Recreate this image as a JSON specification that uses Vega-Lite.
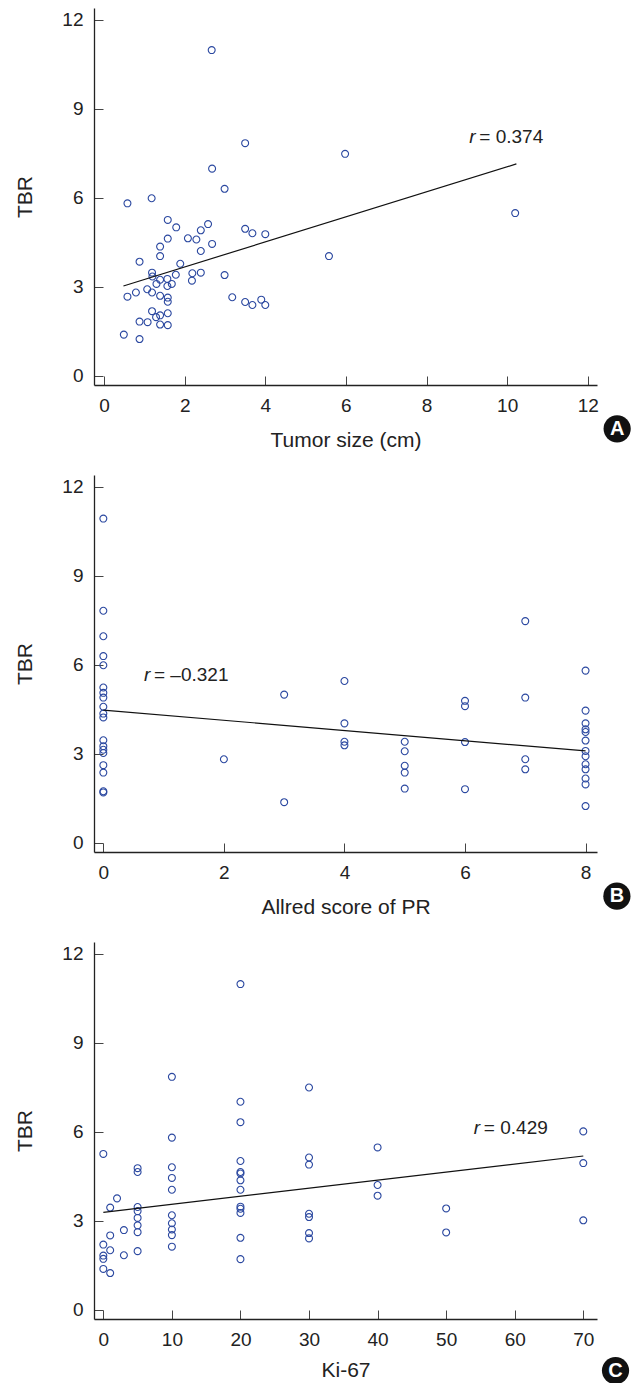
{
  "$schema": "https://vega.github.io/schema/vega-lite/v6.json",
  "background": "white",
  "padding": {"left": 14, "top": 8, "right": 0, "bottom": 0},
  "datasets": {
    "a": [
      {"size": 2.67, "tbr": 10.98}, {"size": 3.50, "tbr": 7.84}, {"size": 5.98, "tbr": 7.48}, {"size": 2.68, "tbr": 6.98},
      {"size": 2.99, "tbr": 6.30}, {"size": 0.58, "tbr": 5.81}, {"size": 1.18, "tbr": 5.98}, {"size": 1.58, "tbr": 5.25},
      {"size": 1.79, "tbr": 5.00}, {"size": 2.58, "tbr": 5.11}, {"size": 2.40, "tbr": 4.90}, {"size": 1.58, "tbr": 4.62},
      {"size": 2.08, "tbr": 4.63}, {"size": 2.29, "tbr": 4.59}, {"size": 2.68, "tbr": 4.44}, {"size": 3.50, "tbr": 4.95},
      {"size": 3.68, "tbr": 4.80}, {"size": 4.00, "tbr": 4.77}, {"size": 1.39, "tbr": 4.35}, {"size": 1.39, "tbr": 4.03},
      {"size": 2.40, "tbr": 4.20}, {"size": 0.88, "tbr": 3.84}, {"size": 1.89, "tbr": 3.77}, {"size": 5.58, "tbr": 4.03},
      {"size": 1.19, "tbr": 3.47}, {"size": 1.20, "tbr": 3.34}, {"size": 1.39, "tbr": 3.23}, {"size": 1.57, "tbr": 3.26},
      {"size": 1.78, "tbr": 3.40}, {"size": 2.19, "tbr": 3.45}, {"size": 2.40, "tbr": 3.47}, {"size": 2.18, "tbr": 3.20},
      {"size": 2.99, "tbr": 3.39}, {"size": 1.30, "tbr": 3.09}, {"size": 1.57, "tbr": 3.02}, {"size": 1.68, "tbr": 3.09},
      {"size": 1.07, "tbr": 2.91}, {"size": 1.19, "tbr": 2.80}, {"size": 0.79, "tbr": 2.80}, {"size": 0.58, "tbr": 2.66},
      {"size": 1.39, "tbr": 2.69}, {"size": 1.58, "tbr": 2.63}, {"size": 1.58, "tbr": 2.49}, {"size": 3.18, "tbr": 2.64},
      {"size": 3.50, "tbr": 2.48}, {"size": 3.68, "tbr": 2.38}, {"size": 3.90, "tbr": 2.56}, {"size": 4.00, "tbr": 2.38},
      {"size": 1.19, "tbr": 2.17}, {"size": 1.39, "tbr": 2.03}, {"size": 1.29, "tbr": 1.97}, {"size": 1.58, "tbr": 2.10},
      {"size": 0.88, "tbr": 1.82}, {"size": 1.08, "tbr": 1.80}, {"size": 1.39, "tbr": 1.72}, {"size": 1.58, "tbr": 1.70},
      {"size": 0.49, "tbr": 1.38}, {"size": 0.88, "tbr": 1.23}, {"size": 10.20, "tbr": 5.48}
    ],
    "fitA": [{"size": 0.48, "tbr": 3.02}, {"size": 10.23, "tbr": 7.14}],
    "b": [
      {"pr": 0, "tbr": 10.93}, {"pr": 0, "tbr": 7.82}, {"pr": 0, "tbr": 6.96}, {"pr": 0, "tbr": 6.29}, {"pr": 0, "tbr": 5.98},
      {"pr": 0, "tbr": 5.23}, {"pr": 0, "tbr": 5.05}, {"pr": 0, "tbr": 4.89}, {"pr": 0, "tbr": 4.58}, {"pr": 0, "tbr": 4.35},
      {"pr": 0, "tbr": 4.22}, {"pr": 0, "tbr": 3.45}, {"pr": 0, "tbr": 3.25}, {"pr": 0, "tbr": 3.13}, {"pr": 0, "tbr": 3.02},
      {"pr": 0, "tbr": 2.61}, {"pr": 0, "tbr": 2.36}, {"pr": 0, "tbr": 1.73}, {"pr": 0, "tbr": 1.69},
      {"pr": 2, "tbr": 2.81}, {"pr": 3, "tbr": 4.99}, {"pr": 3, "tbr": 1.36},
      {"pr": 4, "tbr": 5.45}, {"pr": 4, "tbr": 4.02}, {"pr": 4, "tbr": 3.40}, {"pr": 4, "tbr": 3.28},
      {"pr": 5, "tbr": 3.40}, {"pr": 5, "tbr": 3.08}, {"pr": 5, "tbr": 2.59}, {"pr": 5, "tbr": 2.36}, {"pr": 5, "tbr": 1.82},
      {"pr": 6, "tbr": 4.78}, {"pr": 6, "tbr": 4.60}, {"pr": 6, "tbr": 3.39}, {"pr": 6, "tbr": 1.80},
      {"pr": 7, "tbr": 7.47}, {"pr": 7, "tbr": 4.89}, {"pr": 7, "tbr": 2.81}, {"pr": 7, "tbr": 2.47},
      {"pr": 8, "tbr": 5.80}, {"pr": 8, "tbr": 4.45}, {"pr": 8, "tbr": 4.02}, {"pr": 8, "tbr": 3.82}, {"pr": 8, "tbr": 3.73},
      {"pr": 8, "tbr": 3.44}, {"pr": 8, "tbr": 3.09}, {"pr": 8, "tbr": 2.91}, {"pr": 8, "tbr": 2.64}, {"pr": 8, "tbr": 2.47},
      {"pr": 8, "tbr": 2.16}, {"pr": 8, "tbr": 1.96}, {"pr": 8, "tbr": 1.23}
    ],
    "fitB": [{"pr": 0, "tbr": 4.47}, {"pr": 8, "tbr": 3.09}],
    "c": [
      {"ki": 0, "tbr": 5.25}, {"ki": 0, "tbr": 2.19}, {"ki": 0, "tbr": 1.82}, {"ki": 0, "tbr": 1.71}, {"ki": 0, "tbr": 1.37},
      {"ki": 1, "tbr": 3.44}, {"ki": 1, "tbr": 2.50}, {"ki": 1, "tbr": 2.00}, {"ki": 1, "tbr": 1.23},
      {"ki": 2, "tbr": 3.75}, {"ki": 3, "tbr": 2.68}, {"ki": 3, "tbr": 1.83},
      {"ki": 5, "tbr": 4.77}, {"ki": 5, "tbr": 4.64}, {"ki": 5, "tbr": 3.46}, {"ki": 5, "tbr": 3.32}, {"ki": 5, "tbr": 3.09},
      {"ki": 5, "tbr": 2.84}, {"ki": 5, "tbr": 2.61}, {"ki": 5, "tbr": 1.97},
      {"ki": 10, "tbr": 7.85}, {"ki": 10, "tbr": 5.80}, {"ki": 10, "tbr": 4.80}, {"ki": 10, "tbr": 4.44}, {"ki": 10, "tbr": 4.04},
      {"ki": 10, "tbr": 3.18}, {"ki": 10, "tbr": 2.91}, {"ki": 10, "tbr": 2.70}, {"ki": 10, "tbr": 2.51}, {"ki": 10, "tbr": 2.12},
      {"ki": 20, "tbr": 10.98}, {"ki": 20, "tbr": 7.01}, {"ki": 20, "tbr": 6.32}, {"ki": 20, "tbr": 5.01}, {"ki": 20, "tbr": 4.64},
      {"ki": 20, "tbr": 4.59}, {"ki": 20, "tbr": 4.36}, {"ki": 20, "tbr": 4.04}, {"ki": 20, "tbr": 3.47}, {"ki": 20, "tbr": 3.40},
      {"ki": 20, "tbr": 3.26}, {"ki": 20, "tbr": 2.42}, {"ki": 20, "tbr": 1.70},
      {"ki": 30, "tbr": 7.49}, {"ki": 30, "tbr": 5.13}, {"ki": 30, "tbr": 4.89}, {"ki": 30, "tbr": 3.23}, {"ki": 30, "tbr": 3.12},
      {"ki": 30, "tbr": 2.58}, {"ki": 30, "tbr": 2.40},
      {"ki": 40, "tbr": 5.47}, {"ki": 40, "tbr": 4.20}, {"ki": 40, "tbr": 3.84},
      {"ki": 50, "tbr": 3.41}, {"ki": 50, "tbr": 2.60},
      {"ki": 70, "tbr": 6.01}, {"ki": 70, "tbr": 4.94}, {"ki": 70, "tbr": 3.01}
    ],
    "fitC": [{"ki": 0, "tbr": 3.28}, {"ki": 70, "tbr": 5.18}]
  },
  "vconcat": [
    {
      "width": 503, "height": 377,
      "layer": [
        {
          "data": {"name": "a"},
          "mark": {"type": "point", "shape": "circle", "filled": false, "size": 48, "strokeWidth": 1.1, "color": "#2b48a0", "opacity": 1},
          "encoding": {
            "x": {"field": "size", "type": "quantitative", "scale": {"domain": [-0.25, 12.23], "nice": false, "zero": false},
                  "axis": {"title": "Tumor size (cm)", "values": [0, 2, 4, 6, 8, 10, 12], "format": "d"}},
            "y": {"field": "tbr", "type": "quantitative", "scale": {"domain": [-0.32, 12.4], "nice": false, "zero": false},
                  "axis": {"title": "TBR", "values": [0, 3, 6, 9, 12], "format": "d"}}
          }
        },
        {
          "data": {"name": "fitA"},
          "mark": {"type": "line", "color": "#111111", "strokeWidth": 1.2},
          "encoding": {"x": {"field": "size", "type": "quantitative"}, "y": {"field": "tbr", "type": "quantitative"}}
        },
        {
          "data": {"values": [{}]},
          "mark": {"type": "text", "text": "r", "fontStyle": "italic", "fontSize": 19, "align": "left", "baseline": "alphabetic", "color": "#222222"},
          "encoding": {"x": {"datum": 9.06}, "y": {"datum": 7.84}}
        },
        {
          "data": {"values": [{}]},
          "mark": {"type": "text", "text": "= 0.374", "fontSize": 19, "align": "left", "baseline": "alphabetic", "color": "#222222"},
          "encoding": {"x": {"datum": 9.31}, "y": {"datum": 7.84}}
        },
        {
          "data": {"values": [{}]},
          "mark": {"type": "point", "shape": "circle", "filled": true, "size": 740, "color": "#111111", "opacity": 1},
          "encoding": {"x": {"datum": 12.73}, "y": {"datum": -1.80}}
        },
        {
          "data": {"values": [{}]},
          "mark": {"type": "text", "text": "A", "fontSize": 20, "fontWeight": "bold", "align": "center", "baseline": "middle", "color": "white"},
          "encoding": {"x": {"datum": 12.73}, "y": {"datum": -1.80}}
        }
      ]
    },
    {
      "width": 503, "height": 377,
      "layer": [
        {
          "data": {"name": "b"},
          "mark": {"type": "point", "shape": "circle", "filled": false, "size": 48, "strokeWidth": 1.1, "color": "#2b48a0", "opacity": 1},
          "encoding": {
            "x": {"field": "pr", "type": "quantitative", "scale": {"domain": [-0.155, 8.19], "nice": false, "zero": false},
                  "axis": {"title": "Allred score of PR", "values": [0, 2, 4, 6, 8], "format": "d"}},
            "y": {"field": "tbr", "type": "quantitative", "scale": {"domain": [-0.32, 12.4], "nice": false, "zero": false},
                  "axis": {"title": "TBR", "values": [0, 3, 6, 9, 12], "format": "d"}}
          }
        },
        {
          "data": {"name": "fitB"},
          "mark": {"type": "line", "color": "#111111", "strokeWidth": 1.2},
          "encoding": {"x": {"field": "pr", "type": "quantitative"}, "y": {"field": "tbr", "type": "quantitative"}}
        },
        {
          "data": {"values": [{}]},
          "mark": {"type": "text", "text": "r", "fontStyle": "italic", "fontSize": 19, "align": "left", "baseline": "alphabetic", "color": "#222222"},
          "encoding": {"x": {"datum": 0.675}, "y": {"datum": 5.44}}
        },
        {
          "data": {"values": [{}]},
          "mark": {"type": "text", "text": "= –0.321", "fontSize": 19, "align": "left", "baseline": "alphabetic", "color": "#222222"},
          "encoding": {"x": {"datum": 0.84}, "y": {"datum": 5.44}}
        },
        {
          "data": {"values": [{}]},
          "mark": {"type": "point", "shape": "circle", "filled": true, "size": 740, "color": "#111111", "opacity": 1},
          "encoding": {"x": {"datum": 8.52}, "y": {"datum": -1.81}}
        },
        {
          "data": {"values": [{}]},
          "mark": {"type": "text", "text": "B", "fontSize": 20, "fontWeight": "bold", "align": "center", "baseline": "middle", "color": "white"},
          "encoding": {"x": {"datum": 8.52}, "y": {"datum": -1.81}}
        }
      ]
    },
    {
      "width": 503, "height": 377,
      "layer": [
        {
          "data": {"name": "c"},
          "mark": {"type": "point", "shape": "circle", "filled": false, "size": 48, "strokeWidth": 1.1, "color": "#2b48a0", "opacity": 1},
          "encoding": {
            "x": {"field": "ki", "type": "quantitative", "scale": {"domain": [-1.36, 72.0], "nice": false, "zero": false},
                  "axis": {"title": "Ki-67", "values": [0, 10, 20, 30, 40, 50, 60, 70], "format": "d", "titlePadding": 10}},
            "y": {"field": "tbr", "type": "quantitative", "scale": {"domain": [-0.32, 12.4], "nice": false, "zero": false},
                  "axis": {"title": "TBR", "values": [0, 3, 6, 9, 12], "format": "d"}}
          }
        },
        {
          "data": {"name": "fitC"},
          "mark": {"type": "line", "color": "#111111", "strokeWidth": 1.2},
          "encoding": {"x": {"field": "ki", "type": "quantitative"}, "y": {"field": "tbr", "type": "quantitative"}}
        },
        {
          "data": {"values": [{}]},
          "mark": {"type": "text", "text": "r", "fontStyle": "italic", "fontSize": 19, "align": "left", "baseline": "alphabetic", "color": "#222222"},
          "encoding": {"x": {"datum": 54.04}, "y": {"datum": 5.92}}
        },
        {
          "data": {"values": [{}]},
          "mark": {"type": "text", "text": "= 0.429", "fontSize": 19, "align": "left", "baseline": "alphabetic", "color": "#222222"},
          "encoding": {"x": {"datum": 55.5}, "y": {"datum": 5.92}}
        },
        {
          "data": {"values": [{}]},
          "mark": {"type": "point", "shape": "circle", "filled": true, "size": 740, "color": "#111111", "opacity": 1},
          "encoding": {"x": {"datum": 74.7}, "y": {"datum": -2.06}}
        },
        {
          "data": {"values": [{}]},
          "mark": {"type": "text", "text": "C", "fontSize": 20, "fontWeight": "bold", "align": "center", "baseline": "middle", "color": "white"},
          "encoding": {"x": {"datum": 74.7}, "y": {"datum": -2.06}}
        }
      ]
    }
  ],
  "spacing": 90,
  "bounds": "flush",
  "config": {
    "font": "Liberation Sans",
    "view": {"stroke": null},
    "text": {"font": "Liberation Sans"},
    "axis": {
      "grid": false,
      "domainColor": "#222222",
      "domainWidth": 1.3,
      "tickColor": "#444444",
      "tickWidth": 1,
      "tickSize": -9,
      "labelPadding": 20,
      "labelFont": "Liberation Sans",
      "labelFontSize": 19,
      "labelColor": "#222222",
      "labelFlush": false,
      "labelOverlap": false,
      "titleFont": "Liberation Sans",
      "titleFontSize": 21,
      "titleFontWeight": "normal",
      "titleColor": "#222222"
    },
    "axisX": {"titlePadding": 14},
    "axisY": {"titlePadding": 26}
  }
}
